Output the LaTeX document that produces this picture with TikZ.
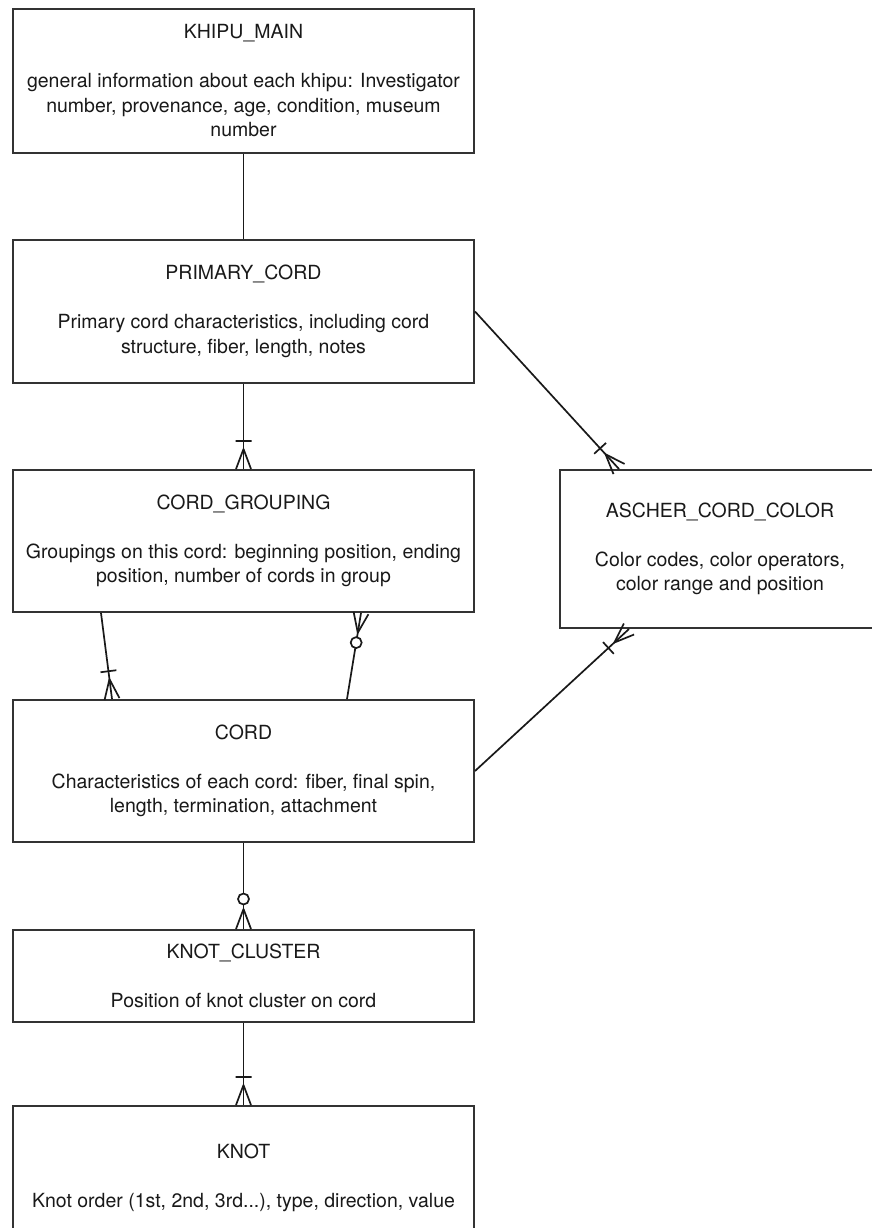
\documentclass[tikz,border=0pt]{standalone}
\usepackage{fontspec}
\setmainfont{TeX Gyre Heros}
\usetikzlibrary{calc}
\newcommand\erOneMany[2]{%
  \draw[erline] ($(#2)!20pt!(#1)$) -- ($(#2)!7.5pt!90:(#1)$)
    ($(#2)!20pt!(#1)$) -- ($(#2)!7.5pt!-90:(#1)$)
    ($(#2)!28pt!(#1)!8pt!90:(#1)$) -- ($(#2)!28pt!(#1)!8pt!-90:(#1)$);}
\newcommand\erZeroMany[2]{%
  \draw[erline] ($(#2)!20pt!(#1)$) -- ($(#2)!7.5pt!90:(#1)$)
    ($(#2)!20pt!(#1)$) -- ($(#2)!7.5pt!-90:(#1)$);
  \draw[erline, fill=white] ($(#2)!30pt!(#1)$) circle[radius=5.5pt];}
\begin{document}
\begin{tikzpicture}[x=1pt,y=-1pt,
  box/.style={draw=black!80, line width=2pt, rectangle, inner sep=0pt,
    align=center, text=black!90, font=\fontsize{19.5}{24.5}\selectfont},
  erline/.style={line width=1.7pt, draw=black!90}]
\useasboundingbox (0,0) rectangle (871,1228);
\fill[white] (0,0) rectangle (871,1228);
\node[box, minimum width=461pt, minimum height=144pt] (km) at (243.5,81)
  {KHIPU\_MAIN\\[24.5pt]general information about each khipu: Investigator\\number, provenance, age, condition, museum\\number};
\node[box, minimum width=461pt, minimum height=143pt] (pc) at (243.5,311.5)
  {PRIMARY\_CORD\\[24.5pt]Primary cord characteristics, including cord\\structure, fiber, length, notes};
\node[box, minimum width=461pt, minimum height=142pt] (cg) at (243.5,541)
  {CORD\_GROUPING\\[24.5pt]Groupings on this cord: beginning position, ending\\position, number of cords in group};
\node[box, minimum width=461pt, minimum height=142pt] (cord) at (243.5,771)
  {CORD\\[24.5pt]Characteristics of each cord: fiber, final spin,\\length, termination, attachment};
\node[box, minimum width=461pt, minimum height=92pt] (kc) at (243.5,976)
  {KNOT\_CLUSTER\\[24.5pt]Position of knot cluster on cord};
\node[box, minimum width=461pt, minimum height=144pt] (knot) at (243.5,1178)
  {KNOT\\[24.5pt]Knot order (1st, 2nd, 3rd...), type, direction, value};
\node[box, minimum width=320pt, minimum height=158pt] (ac) at (720,549)
  {ASCHER\_CORD\_COLOR\\[24.5pt]Color codes, color operators,\\color range and position};
% connectors
\draw[erline] (km.south) -- (pc.north);
\draw[erline] (pc.south) -- (cg.north);
\erOneMany{pc.south}{cg.north}
\draw[erline] (pc.east) -- ([xshift=60pt]ac.north west);
\erOneMany{pc.east}{[xshift=60pt]ac.north west}
\draw[erline] ([xshift=89pt]cg.south west) -- ([xshift=100pt]cord.north west);
\erOneMany{[xshift=89pt]cg.south west}{[xshift=100pt]cord.north west}
\draw[erline] ([xshift=335pt]cord.north west) -- ([xshift=349pt]cg.south west);
\erZeroMany{[xshift=335pt]cord.north west}{[xshift=349pt]cg.south west}
\draw[erline] (cord.east) -- ([xshift=70pt]ac.south west);
\erOneMany{cord.east}{[xshift=70pt]ac.south west}
\draw[erline] (cord.south) -- (kc.north);
\erZeroMany{cord.south}{kc.north}
\draw[erline] (kc.south) -- (knot.north);
\erOneMany{kc.south}{knot.north}
\end{tikzpicture}
\end{document}
